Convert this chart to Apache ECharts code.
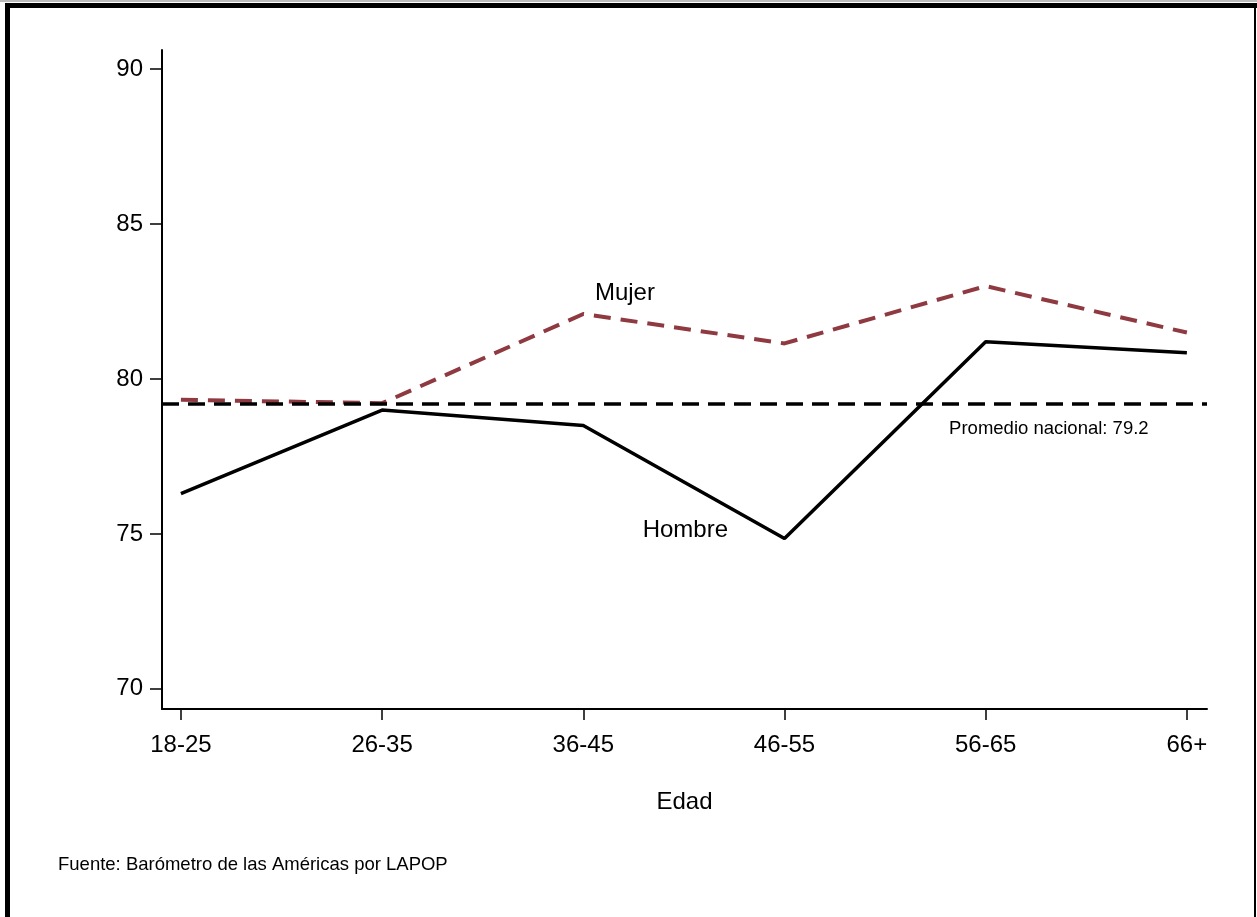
<!DOCTYPE html>
<html>
<head>
<meta charset="utf-8">
<script src="https://cdn.jsdelivr.net/npm/echarts@6/dist/echarts.min.js"></script>
<style>
html,body{margin:0;padding:0;background:#fff;}
#c{width:1257px;height:917px;}
</style>
</head>
<body>
<div id="c"></div>
<script>
var categories = ['18-25','26-35','36-45','46-55','56-65','66+'];
var hombre = [76.3, 79.0, 78.5, 74.85, 81.2, 80.85];
var mujer = [79.33, 79.22, 82.1, 81.15, 83.0, 81.5];
var promedio = 79.2;
var yTicks = [70, 75, 80, 85, 90];
var xName = 'Edad';
var source = 'Fuente: Barómetro de las Américas por LAPOP';

var font = '"Liberation Sans", Arial, Helvetica, sans-serif';
function pairs(arr){ return arr.map(function(v,i){ return [i, v]; }); }
var xIdx = categories.map(function(c,i){ return i; });

var chart = echarts.init(document.getElementById('c'), null, {renderer:'canvas'});
chart.setOption({
  animation: false,
  backgroundColor: '#fff',
  grid: {left:162, right:50, top:50, bottom:208, containLabel:false},
  xAxis: {
    type:'value', min:-0.094, max:5.1,
    name: xName, nameLocation:'middle', nameGap:81,
    nameTextStyle:{fontFamily:font, fontSize:24, color:'#000'},
    axisLine:{show:true, onZero:false, lineStyle:{color:'#000', width:2}},
    axisTick:{show:true, length:11, customValues:xIdx, lineStyle:{color:'#000', width:1.5}},
    axisLabel:{customValues:xIdx, margin:24, fontFamily:font, fontSize:24, color:'#000',
      formatter:function(v){ return categories[Math.round(v)]; }},
    splitLine:{show:false}
  },
  yAxis: {
    type:'value', min:69.35, max:90.62,
    axisLine:{show:true, onZero:false, lineStyle:{color:'#000', width:2}},
    axisTick:{show:true, length:12, customValues:yTicks, lineStyle:{color:'#000', width:1.5}},
    axisLabel:{customValues:yTicks, margin:19, fontFamily:font, fontSize:24, color:'#000'},
    splitLine:{show:false}
  },
  series: [
    {
      name:'Hombre', type:'line', data:pairs(hombre), symbol:'none',
      lineStyle:{color:'#000', width:3.5}, z:3,
      markPoint:{symbol:'circle', symbolSize:0, silent:true,
        data:[{coord:[2.507, 75.1], value:'Hombre'}],
        label:{show:true, position:'inside', formatter:'Hombre', fontFamily:font, fontSize:24, color:'#000'}}
    },
    {
      name:'Mujer', type:'line', data:pairs(mujer), symbol:'none',
      lineStyle:{color:'#8f3a41', width:4, type:[17,10]}, z:2,
      markPoint:{symbol:'circle', symbolSize:0, silent:true,
        data:[{coord:[2.207, 82.75], value:'Mujer'}],
        label:{show:true, position:'inside', formatter:'Mujer', fontFamily:font, fontSize:24, color:'#000'}}
    },
    {
      name:'Promedio', type:'line', data:[], symbol:'none', z:1,
      markLine:{symbol:'none', silent:true,
        lineStyle:{color:'#000', width:3.5, type:[17,9]},
        label:{show:false},
        data:[{yAxis:promedio}]},
      markPoint:{symbol:'circle', symbolSize:0, silent:true,
        data:[{coord:[4.314, 78.4], value:'p'}],
        label:{show:true, position:'inside', formatter:'Promedio nacional: ' + promedio.toFixed(1), fontFamily:font, fontSize:18.5, color:'#000'}}
    }
  ],
  graphic: [
    {type:'rect', shape:{x:0,y:0,width:1257,height:2}, style:{fill:'#bbb'}, silent:true},
    {type:'rect', shape:{x:5,y:3,width:1252,height:5}, style:{fill:'#000'}, silent:true},
    {type:'rect', shape:{x:5,y:3,width:5,height:914}, style:{fill:'#000'}, silent:true},
    {type:'rect', shape:{x:1254,y:3,width:2,height:914}, style:{fill:'#000'}, silent:true},
    {type:'text', left:58, top:855, silent:true,
      style:{text:source, font:'18.5px ' + font, fill:'#000'}}
  ]
});
</script>
</body>
</html>
